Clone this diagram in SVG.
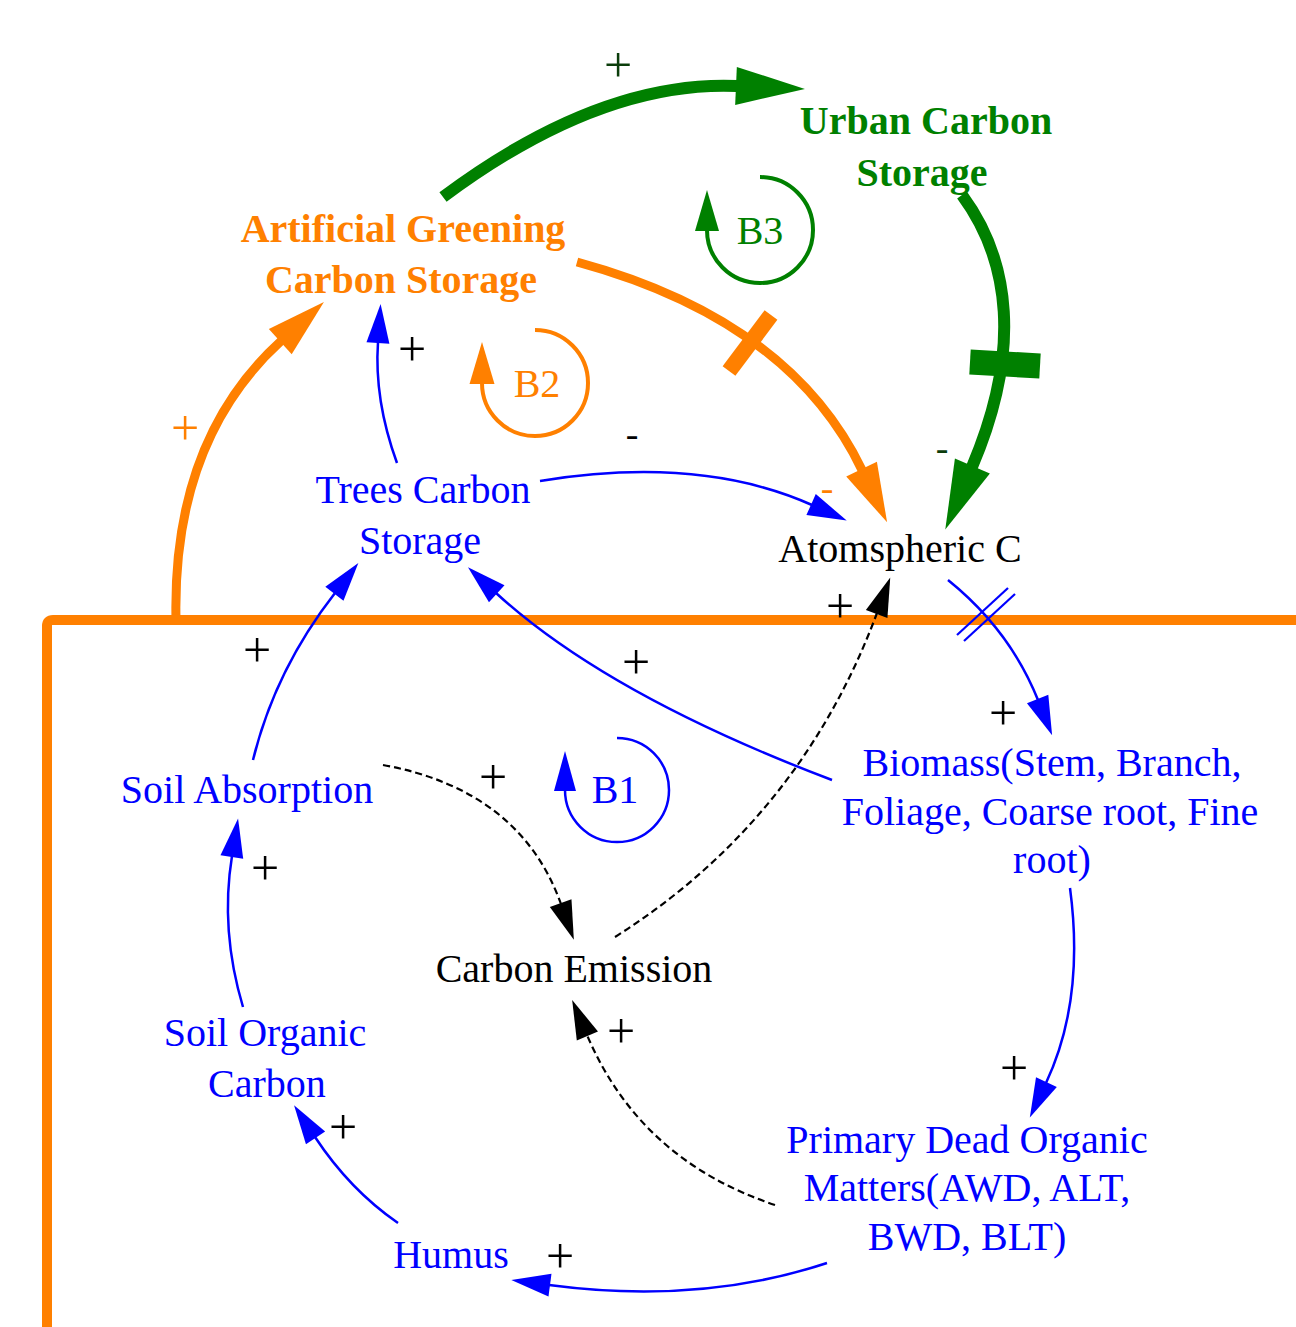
<svg xmlns="http://www.w3.org/2000/svg" width="1296" height="1327" viewBox="0 0 1296 1327">
<style>
text{font-family:"Liberation Serif","Times New Roman",serif;font-size:40px;text-anchor:middle}
.b{fill:#0000FF}.k{fill:#000}.o{fill:#FF8000}.g{fill:#008000}
.bold{font-weight:bold}
.sg{font-size:38px}
.pl{font-size:50px}
.thin{fill:none;stroke:#0000FF;stroke-width:2.5}
.dash{fill:none;stroke:#000;stroke-width:2.2;stroke-dasharray:7 4}
.orng{fill:none;stroke:#FF8000;stroke-width:9}
.grn{fill:none;stroke:#008000;stroke-width:12}
</style>
<defs>
<marker id="ab" markerUnits="userSpaceOnUse" orient="auto" overflow="visible" refX="0" refY="0" markerWidth="40" markerHeight="24"><path d="M-1,-11.5 L38,0 L-1,11.5 z" fill="#0000FF"/></marker>
<marker id="ak" markerUnits="userSpaceOnUse" orient="auto" overflow="visible" refX="0" refY="0" markerWidth="40" markerHeight="24"><path d="M-1,-11.5 L38,0 L-1,11.5 z" fill="#000"/></marker>
<marker id="ao" markerUnits="userSpaceOnUse" orient="auto" overflow="visible" refX="0" refY="0" markerWidth="60" markerHeight="36"><path d="M-1,-17 L58,0 L-1,17 z" fill="#FF8000"/></marker>
<marker id="ag" markerUnits="userSpaceOnUse" orient="auto" overflow="visible" refX="0" refY="0" markerWidth="70" markerHeight="40"><path d="M-1,-19 L68,0 L-1,19 z" fill="#008000"/></marker>
<marker id="lo" markerUnits="userSpaceOnUse" orient="auto" overflow="visible" refX="0" refY="0" markerWidth="42" markerHeight="26"><path d="M-1,-12.5 L41,0 L-1,12.5 z" fill="#FF8000"/></marker>
<marker id="lg" markerUnits="userSpaceOnUse" orient="auto" overflow="visible" refX="0" refY="0" markerWidth="42" markerHeight="26"><path d="M-1,-12 L40,0 L-1,12 z" fill="#008000"/></marker>
<marker id="lb" markerUnits="userSpaceOnUse" orient="auto" overflow="visible" refX="0" refY="0" markerWidth="42" markerHeight="24"><path d="M-1,-11 L39,0 L-1,11 z" fill="#0000FF"/></marker>
</defs>

<g id="boundary">
<path d="M47,1327 L47,626 Q47,620 53,620 L1296,620" fill="none" stroke="#FF8000" stroke-width="10"/>
</g>

<g id="connectors">
<!-- green: AG -> Urban -->
<path class="grn" d="M443,197 Q600,80 737,86" marker-end="url(#ag)"/>
<text x="618" y="82" class="pl" style="fill:#0b3d0b">+</text>
<!-- green: Urban -> Atmos -->
<path class="grn" d="M962,195 C1010,260 1022,350 972,467" marker-end="url(#ag)"/>
<line x1="970" y1="362" x2="1040" y2="366" stroke="#008000" stroke-width="25"/>
<text x="942" y="461" class="sg" style="fill:#0b3d0b">-</text>
<!-- orange: AG -> Atmos -->
<path class="orng" d="M577,262 Q790,320 862,470" marker-end="url(#ao)"/>
<line x1="771" y1="315" x2="729" y2="371" stroke="#FF8000" stroke-width="16"/>
<text x="827" y="501" class="sg o">-</text>
<!-- orange: boundary -> AG -->
<path class="orng" d="M176,620 Q172,440 281,341" marker-end="url(#ao)"/>
<text x="185" y="445" class="pl o">+</text>
<!-- Trees -> AG -->
<path class="thin" d="M397,463 Q374,400 378,342" marker-end="url(#ab)"/>
<text x="412" y="366" class="pl k">+</text>
<!-- Trees -> Atmos -->
<path class="thin" d="M540,481 Q700,455 812,505" marker-end="url(#ab)"/>
<text x="632" y="447" class="sg k">-</text>
<!-- Soil Absorption -> Trees -->
<path class="thin" d="M253,760 Q275,670 335,593" marker-end="url(#ab)"/>
<text x="257" y="667" class="pl k">+</text>
<!-- Biomass -> Trees -->
<path class="thin" d="M832,780 C700,730 580,670 496,593" marker-end="url(#ab)"/>
<text x="636" y="679" class="pl k">+</text>
<!-- Atmos -> Biomass -->
<path class="thin" d="M948,580 Q1010,630 1038,700" marker-end="url(#ab)"/>
<line x1="957" y1="635" x2="1008" y2="588" stroke="#0000FF" stroke-width="2.2"/>
<line x1="964" y1="641" x2="1015" y2="594" stroke="#0000FF" stroke-width="2.2"/>
<text x="1003" y="730" class="pl k">+</text>
<!-- Biomass -> Primary -->
<path class="thin" d="M1070,888 Q1085,1000 1046,1083" marker-end="url(#ab)"/>
<text x="1014" y="1085" class="pl k">+</text>
<!-- Primary -> Humus -->
<path class="thin" d="M827,1263 Q700,1305 549,1285" marker-end="url(#ab)"/>
<text x="560" y="1273" class="pl k">+</text>
<!-- Humus -> Soil Organic -->
<path class="thin" d="M398,1223 Q350,1190 315,1137" marker-end="url(#ab)"/>
<text x="343" y="1144" class="pl k">+</text>
<!-- Soil Organic -> Soil Absorption -->
<path class="thin" d="M243,1007 Q220,930 232,856" marker-end="url(#ab)"/>
<text x="265" y="885" class="pl k">+</text>
<!-- dashed: Soil Absorption -> Emission -->
<path class="dash" d="M383,765 Q520,790 561,904" marker-end="url(#ak)"/>
<text x="493" y="794" class="pl k">+</text>
<!-- dashed: Emission -> Atmos -->
<path class="dash" d="M615,937 Q800,820 877,613" marker-end="url(#ak)"/>
<text x="840" y="623" class="pl k">+</text>
<!-- dashed: Primary -> Emission -->
<path class="dash" d="M775,1205 Q640,1160 587,1035" marker-end="url(#ak)"/>
<text x="621" y="1048" class="pl k">+</text>
</g>

<g id="loop-B3">
<path d="M760,177 A53,53 0 1 1 707,230" fill="none" stroke="#008000" stroke-width="4" marker-end="url(#lg)"/>
<text x="760" y="244" class="g">B3</text>
</g>
<g id="loop-B2">
<path d="M535,330 A53,53 0 1 1 482,383" fill="none" stroke="#FF8000" stroke-width="4" marker-end="url(#lo)"/>
<text x="537" y="397" class="o">B2</text>
</g>
<g id="loop-B1">
<path d="M617,738 A52,52 0 1 1 565,790" fill="none" stroke="#0000FF" stroke-width="2.5" marker-end="url(#lb)"/>
<text x="615" y="803" class="b">B1</text>
</g>

<g id="urban-carbon-storage">
<text x="926" y="134" class="g bold">Urban Carbon</text>
<text x="922" y="186" class="g bold">Storage</text>
</g>
<g id="artificial-greening">
<text x="403" y="242" class="o bold">Artificial Greening</text>
<text x="401" y="293" class="o bold">Carbon Storage</text>
</g>
<g id="trees-carbon-storage">
<text x="423" y="503" class="b">Trees Carbon</text>
<text x="420" y="554" class="b">Storage</text>
</g>
<g id="atmospheric-c">
<text x="900" y="562" class="k">Atomspheric C</text>
</g>
<g id="soil-absorption">
<text x="247" y="803" class="b">Soil Absorption</text>
</g>
<g id="biomass">
<text x="1052" y="776" class="b">Biomass(Stem, Branch,</text>
<text x="1050" y="825" class="b">Foliage, Coarse root, Fine</text>
<text x="1052" y="873" class="b">root)</text>
</g>
<g id="carbon-emission">
<text x="574" y="982" class="k">Carbon Emission</text>
</g>
<g id="soil-organic-carbon">
<text x="265" y="1046" class="b">Soil Organic</text>
<text x="267" y="1097" class="b">Carbon</text>
</g>
<g id="primary-dead-organic-matters">
<text x="967" y="1153" class="b">Primary Dead Organic</text>
<text x="967" y="1201" class="b">Matters(AWD, ALT,</text>
<text x="967" y="1250" class="b">BWD, BLT)</text>
</g>
<g id="humus">
<text x="451" y="1268" class="b">Humus</text>
</g>
</svg>
